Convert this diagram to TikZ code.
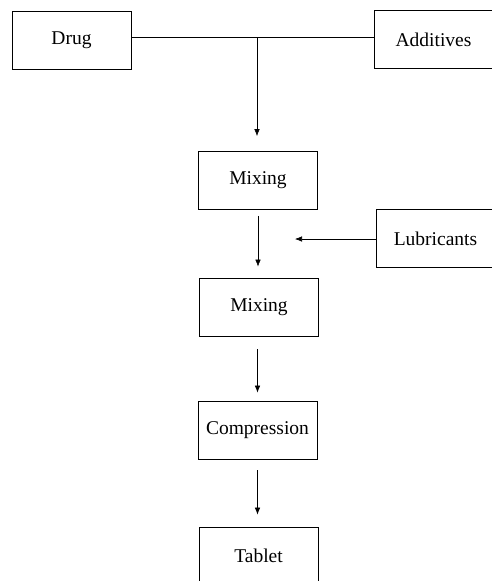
\documentclass[tikz,border=0pt]{standalone}
\usepackage{fontspec}
\setmainfont{Liberation Serif}
\usetikzlibrary{arrows.meta}
\begin{document}
\begin{tikzpicture}[x=1pt,y=-1pt,
  box/.style={draw, line width=0.7pt, minimum width=119pt, minimum height=58pt, inner sep=0pt, font=\fontsize{19.5pt}{22pt}\selectfont},
  link/.style={line width=0.6pt},
  arr/.style={line width=0.6pt, -{Latex[length=7pt,width=5.5pt]}}]
\useasboundingbox (0,0) rectangle (492,581);
\clip (0,0) rectangle (492,581);
\node[box] (drug) at (71.5,40) {Drug};
\node[box] (add) at (433.5,39.5) {Additives};
\coordinate (J) at (257,37);
\node[box] (mix1) at (258,180.5) {Mixing};
\node[box] (mix2) at (259,307) {Mixing};
\node[box] (comp) at (257.5,430) {Compression};
\node[box] (tab) at (258.5,556) {Tablet};
\node[box] (lub) at (435.5,238.5) {Lubricants};
\coordinate (L) at (295,239);
\draw[link] (drug.east |- J) -- (add.west |- J);
\draw[arr] (J) -- (J |- mix1.north) [shorten >=15pt];
\draw[arr, shorten <=6pt, shorten >=11pt] (mix1.south) -- (mix1.south |- mix2.north);
\draw[arr, shorten <=13pt, shorten >=8pt] (mix2.south -| comp.south) -- (comp.north);
\draw[arr, shorten <=11pt, shorten >=12pt] (comp.south) -- (comp.south |- tab.north);
\draw[arr] (lub.west |- L) -- (L);
\end{tikzpicture}
\end{document}
